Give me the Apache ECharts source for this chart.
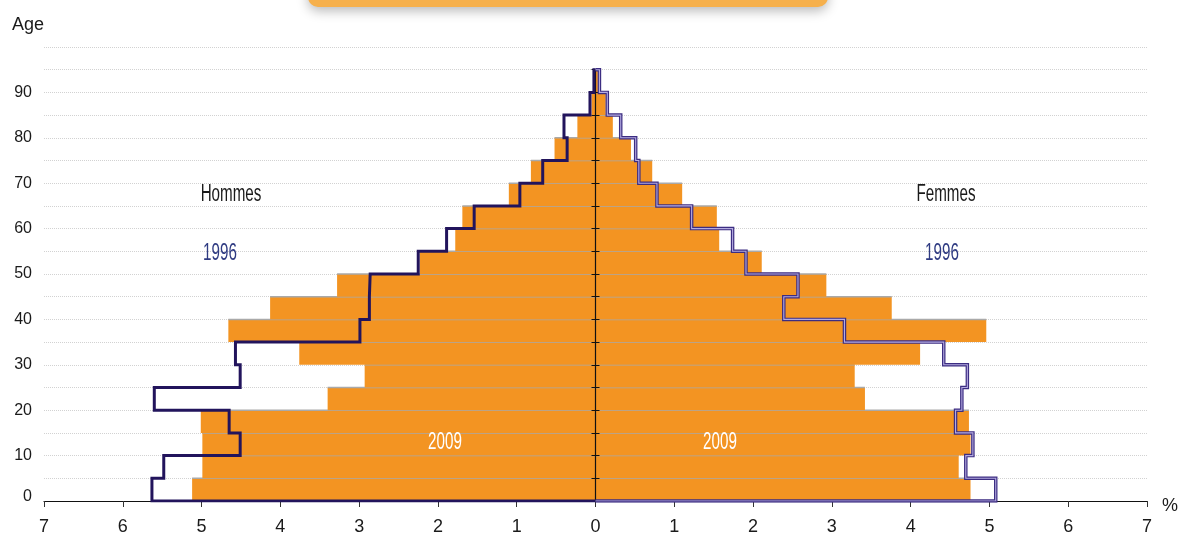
<!DOCTYPE html>
<html>
<head>
<meta charset="utf-8">
<script src="https://cdn.jsdelivr.net/npm/echarts@6/dist/echarts.min.js"></script>
<style>
    html, body {
        margin: 0;
        padding: 0;
        background: #fff;
    }
    #chart {
        width: 1179px;
        height: 534px;
    }
</style>
</head>
<body>
<div id="chart"></div>
<script>
// tranches d'âge (début de chaque tranche de 5 ans)
const ageGroups = [0, 5, 10, 15, 20, 25, 30, 35, 40, 45, 50, 55, 60, 65, 70, 75, 80, 85, 90];
const bandSize = 5;

// % de la population par tranche
const hommes2009 = [5.12, 4.99, 4.99, 5.01, 3.40, 2.93, 3.76, 4.66, 4.13, 3.28, 2.23, 1.78, 1.69, 1.10, 0.82, 0.52, 0.23, 0.05, 0.01];
const hommes1996 = [5.63, 5.48, 4.51, 4.65, 5.60, 4.51, 4.57, 2.99, 2.87, 2.86, 2.25, 1.89, 1.54, 0.96, 0.67, 0.36, 0.40, 0.07, 0.02];
const femmes2009 = [4.76, 4.61, 4.76, 4.74, 3.42, 3.29, 4.12, 4.96, 3.76, 2.93, 2.11, 1.57, 1.54, 1.10, 0.72, 0.45, 0.22, 0.13, 0.03];
const femmes1996 = [5.08, 4.70, 4.79, 4.57, 4.65, 4.72, 4.42, 3.16, 2.39, 2.57, 1.91, 1.74, 1.22, 0.78, 0.55, 0.51, 0.32, 0.15, 0.05];

const xTicks = [-7, -6, -5, -4, -3, -2, -1, 0, 1, 2, 3, 4, 5, 6, 7];
const yLabels = [0, 10, 20, 30, 40, 50, 60, 70, 80, 90];
const centerTicks = [5, 10, 15, 20, 25, 30, 35, 40, 45, 50, 55, 60, 65, 70, 75, 80, 85, 90, 95];

const topAge = ageGroups[ageGroups.length - 1] + bandSize;
const labelFont = 'Liberation Sans, Arial, sans-serif';

const gridLeft = 44;
const gridRight = 32;
const gridWidth = 1179 - gridLeft - gridRight;

const barData = (vals, sign) => vals.map((v, i) => [sign * v, ageGroups[i]]);

const stepData = (vals, sign) => {
    const pts = [[0, 0]];
    vals.forEach((v, i) => {
        pts.push([sign * v, ageGroups[i]]);
        pts.push([sign * v, ageGroups[i] + bandSize]);
    });
    pts.push([0, topAge]);
    return pts;
};

const renderBar = (params, api) => {
    const v = api.value(0);
    const a = api.value(1);
    const p0 = api.coord([0, a]);
    const p1 = api.coord([v, a + bandSize]);
    const x = Math.min(p0[0], p1[0]);
    const w = Math.abs(p1[0] - p0[0]);
    return {
        type: 'group',
        children: [
            {
                type: 'rect',
                shape: {x: x, y: p1[1], width: w, height: p0[1] - p1[1]},
                style: {fill: '#f39422'},
            },
            {
                type: 'line',
                shape: {x1: x, y1: p1[1], x2: x + w, y2: p1[1]},
                style: {stroke: '#a9a9a9', lineWidth: 1.5},
            },
        ],
    };
};

// axe central (graduations de part et d'autre du 0)
const centerAxis = inside => ({
    type: 'value',
    min: 0,
    max: 100,
    position: 'left',
    offset: -gridWidth / 2,
    z: 4,
    axisLine: {show: false},
    axisTick: {show: true, inside: inside, length: 4, customValues: centerTicks, lineStyle: {color: '#111', width: 1}},
    axisLabel: {show: false},
    splitLine: {show: false},
});

const narrowText = (x, y, text, color) => ({
    type: 'text',
    x: x,
    y: y,
    scaleX: 0.66,
    z: 10,
    style: {
        text: text,
        fontSize: 23,
        fill: color,
        fontFamily: labelFont,
        align: 'center',
        verticalAlign: 'middle',
    },
});

const option = {
    animation: false,
    grid: {left: gridLeft, right: gridRight, top: 47, bottom: 33, outerBoundsMode: 'none'},
    xAxis: {
        type: 'value',
        min: -7,
        max: 7,
        interval: 1,
        axisLine: {onZero: false, lineStyle: {color: '#111', width: 1.2}},
        axisTick: {show: true, length: 6, customValues: xTicks, lineStyle: {color: '#333'}},
        axisLabel: {
            fontSize: 18,
            color: '#1a1a1a',
            fontFamily: labelFont,
            margin: 17,
            formatter: v => String(Math.abs(v)),
        },
        splitLine: {show: false},
    },
    yAxis: [
        {
            type: 'value',
            min: 0,
            max: 100,
            interval: 5,
            position: 'left',
            axisLine: {show: false},
            axisTick: {show: false},
            axisLabel: {
                customValues: yLabels,
                fontSize: 16,
                color: '#1a1a1a',
                fontFamily: labelFont,
                margin: 12,
                formatter: v => (v === 0 ? '{z|0}' : String(v)),
                rich: {
                    z: {fontSize: 16, color: '#1a1a1a', fontFamily: labelFont, padding: [0, 0, 8, 0]},
                },
            },
            splitLine: {show: true, lineStyle: {color: '#d2d2d2', type: 'dotted', width: 1}},
        },
        centerAxis(false),
        centerAxis(true),
    ],
    series: [
        {
            name: 'Hommes 2009',
            type: 'custom',
            renderItem: renderBar,
            data: barData(hommes2009, -1),
            z: 2,
        },
        {
            name: 'Femmes 2009',
            type: 'custom',
            renderItem: renderBar,
            data: barData(femmes2009, 1),
            z: 2,
        },
        {
            name: 'axe',
            type: 'line',
            data: [[0, 0], [0, topAge]],
            showSymbol: false,
            lineStyle: {color: '#111', width: 1.2},
            z: 3,
        },
        {
            name: 'Hommes 1996',
            type: 'line',
            data: stepData(hommes1996, -1),
            showSymbol: false,
            lineStyle: {color: '#22145c', width: 3, join: 'miter'},
            z: 5,
        },
        {
            name: 'Femmes 1996',
            type: 'line',
            data: stepData(femmes1996, 1),
            showSymbol: false,
            lineStyle: {color: '#3c2d82', width: 3.5, join: 'miter'},
            z: 5,
        },
        {
            name: 'Femmes 1996 (centre)',
            type: 'line',
            data: stepData(femmes1996, 1),
            showSymbol: false,
            lineStyle: {color: '#b4abe0', width: 1.1, join: 'miter'},
            z: 6,
        },
    ],
    graphic: [
        {
            type: 'rect',
            shape: {x: 308, y: -20, width: 520, height: 27, r: 10},
            style: {fill: '#f6b04c', shadowBlur: 12, shadowOffsetY: 4, shadowColor: 'rgba(0,0,0,0.28)'},
        },
        {type: 'text', left: 12, top: 16, style: {text: 'Age', fontSize: 18, fill: '#1a1a1a', fontFamily: labelFont}},
        {type: 'text', left: 1162, top: 497, style: {text: '%', fontSize: 18, fill: '#1a1a1a', fontFamily: labelFont}},
        narrowText(231, 195, 'Hommes', '#1a1a1a'),
        narrowText(946, 195, 'Femmes', '#1a1a1a'),
        narrowText(220, 254, '1996', '#2f3b82'),
        narrowText(942, 254, '1996', '#2f3b82'),
        narrowText(445, 443, '2009', '#ffffff'),
        narrowText(720, 443, '2009', '#ffffff'),
    ],
};

const myChart = echarts.init(document.getElementById('chart'));
myChart.setOption(option);
</script>
</body>
</html>
